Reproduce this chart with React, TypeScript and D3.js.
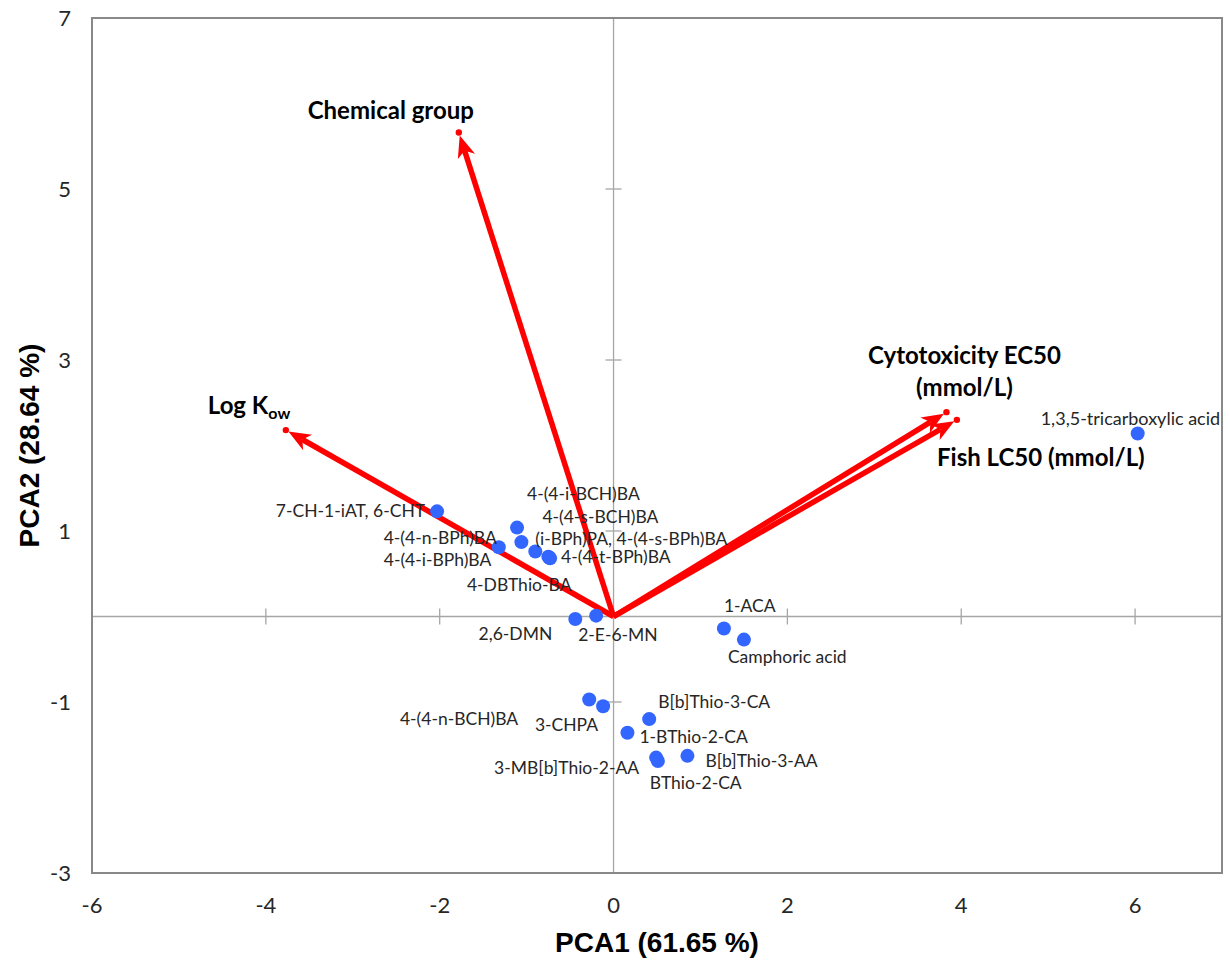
import React from "react";
import * as d3 from "d3";

// PCA scores (compounds)
const compoundNames = [
  "7-CH-1-iAT, 6-CHT",
  "4-(4-i-BCH)BA",
  "4-(4-s-BCH)BA",
  "(i-BPh)PA, 4-(4-s-BPh)BA",
  "4-(4-n-BPh)BA",
  "4-(4-i-BPh)BA",
  "4-(4-t-BPh)BA",
  "4-DBThio-BA",
  "2,6-DMN",
  "2-E-6-MN",
  "1-ACA",
  "Camphoric acid",
  "4-(4-n-BCH)BA",
  "3-CHPA",
  "B[b]Thio-3-CA",
  "1-BThio-2-CA",
  "3-MB[b]Thio-2-AA",
  "BThio-2-CA",
  "B[b]Thio-3-AA",
  "1,3,5-tricarboxylic acid",
];
const pca1 = [-2.03, -1.11, -1.06, -0.9, -1.32, -0.75, -0.73, -0.74, -0.44, -0.2, 1.27, 1.5, -0.28, -0.12, 0.41, 0.16, 0.49, 0.51, 0.85, 6.03];
const pca2 = [1.23, 1.04, 0.87, 0.76, 0.81, 0.7, 0.68, 0.69, -0.03, 0.01, -0.14, -0.27, -0.97, -1.05, -1.2, -1.36, -1.65, -1.69, -1.63, 2.14];

// loadings (variables)
const loadingNames = ["Log Kow", "Chemical group", "Cytotoxicity EC50 (mmol/L)", "Fish LC50 (mmol/L)"];
const loadX = [-3.77, -1.78, 3.83, 3.95];
const loadY = [2.18, 5.66, 2.39, 2.3];

const xTicks = [-6, -4, -2, 0, 2, 4, 6];
const yTicks = [-3, -1, 1, 3, 5, 7];

// label placement (px offsets from the point, anchor)
const labelPos: [number, number, string][] = [
  [-12, 0, "end"],
  [10, -34, "start"],
  [21, -25, "start"],
  [0, -13, "start"],
  [-2, -9, "end"],
  [-57, 3, "end"],
  [11, -1, "start"],
  [-30, 27, "middle"],
  [-23, 15, "end"],
  [-18, 19, "start"],
  [0, -23, "start"],
  [-16, 17, "start"],
  [-71, 19, "end"],
  [-5, 19, "end"],
  [9, -17, "start"],
  [12, 4, "start"],
  [-17, 10, "end"],
  [-8, 22, "start"],
  [18, 5, "start"],
  [-97, -15, "start"],
];

const W = 1230;
const H = 962;
const left = 92, right = 1222, top = 18, bottom = 873;

const x = d3.scaleLinear([-6, 7], [left, right]);
const y = d3.scaleLinear([-3, 7], [bottom, top]);

const RED = "#ff0000";
const labelFont = "Lato, 'Open Sans', sans-serif";
const titleFont = "'Liberation Sans', Arial, sans-serif";

function Arrow({ i }: { i: number }) {
  const x0 = x(0), y0 = y(0);
  const x1 = x(loadX[i]), y1 = y(loadY[i]);
  const ang = Math.atan2(y1 - y0, x1 - x0);
  const tipBack = 3;
  const len = 22, half = 9;
  const tx = x1 - Math.cos(ang) * tipBack;
  const ty = y1 - Math.sin(ang) * tipBack;
  const bx = tx - Math.cos(ang) * len;
  const by = ty - Math.sin(ang) * len;
  const px = -Math.sin(ang) * half;
  const py = Math.cos(ang) * half;
  const nx = bx + Math.cos(ang) * 6;
  const ny = by + Math.sin(ang) * 6;
  const head = d3.path();
  head.moveTo(tx, ty);
  head.lineTo(bx + px, by + py);
  head.lineTo(nx, ny);
  head.lineTo(bx - px, by - py);
  head.closePath();
  return (
    <g>
      <line x1={x0} y1={y0} x2={nx} y2={ny} stroke={RED} strokeWidth={5.5} />
      <path d={head.toString()} fill={RED} />
      <circle cx={x1} cy={y1} r={3.2} fill={RED} />
    </g>
  );
}

export default function App() {
  const x0 = x(0), y0 = y(0);
  const boldStyle = { fontFamily: labelFont, fontWeight: 700, fontSize: 24, fill: "#000" } as const;
  return (
    <svg width={W} height={H} style={{ position: "absolute", left: 0, top: 0, background: "#fff" }}>
      {/* inner axes */}
      <line x1={left} x2={right} y1={y0} y2={y0} stroke="#a6a6a6" strokeWidth={1.3} />
      <line x1={x0} x2={x0} y1={top} y2={bottom} stroke="#a6a6a6" strokeWidth={1.3} />
      {xTicks.filter((t) => t !== 0 && t !== -6).map((t) => (
        <line key={"xt" + t} x1={x(t)} x2={x(t)} y1={y0 - 8} y2={y0 + 8} stroke="#a6a6a6" strokeWidth={1.3} />
      ))}
      {yTicks.filter((t) => t !== -3 && t !== 7).map((t) => (
        <line key={"yt" + t} x1={x0 - 8} x2={x0 + 8} y1={y(t)} y2={y(t)} stroke="#a6a6a6" strokeWidth={1.3} />
      ))}
      {/* box */}
      <rect x={left} y={top} width={right - left} height={bottom - top} fill="none" stroke="#898989" strokeWidth={2} />

      {/* tick labels */}
      {xTicks.map((t) => (
        <text key={"xl" + t} x={x(t)} y={905} dy="0.35em" textAnchor="middle" fontFamily={labelFont} fontSize={22} fill="#262626">
          {t}
        </text>
      ))}
      {yTicks.map((t) => (
        <text key={"yl" + t} x={71} y={y(t)} dy="0.35em" textAnchor="end" fontFamily={labelFont} fontSize={22} fill="#262626">
          {t}
        </text>
      ))}

      {/* axis titles */}
      <text x={(left + right) / 2} y={952} textAnchor="middle" fontFamily={titleFont} fontWeight={700} fontSize={28} fill="#000">
        PCA1 (61.65 %)
      </text>
      <text transform={`translate(39,${(top + bottom) / 2}) rotate(-90)`} textAnchor="middle" fontFamily={titleFont} fontWeight={700} fontSize={28} fill="#000">
        PCA2 (28.64 %)
      </text>

      {/* loading arrows */}
      {loadingNames.map((_, i) => (
        <Arrow key={"a" + i} i={i} />
      ))}

      {/* arrow labels */}
      <text x={x(loadX[0]) - 78} y={y(loadY[0]) - 16} style={boldStyle}>
        Log K<tspan fontSize={16} dy={5}>ow</tspan>
      </text>
      <text x={x(loadX[1]) - 68} y={y(loadY[1]) - 22} dy="0.35em" textAnchor="middle" style={boldStyle}>
        {loadingNames[1]}
      </text>
      <text x={x(loadX[2]) + 18} y={y(loadY[2]) - 57} dy="0.35em" textAnchor="middle" style={boldStyle}>
        Cytotoxicity EC50
      </text>
      <text x={x(loadX[2]) + 18} y={y(loadY[2]) - 25} dy="0.35em" textAnchor="middle" style={boldStyle}>
        (mmol/L)
      </text>
      <text x={x(loadX[3]) + 84} y={y(loadY[3]) + 38} dy="0.35em" textAnchor="middle" style={boldStyle}>
        {loadingNames[3]}
      </text>

      {/* scores */}
      {compoundNames.map((n, i) => (
        <circle key={"p" + i} cx={x(pca1[i])} cy={y(pca2[i])} r={7} fill="#3366ff" />
      ))}
      {compoundNames.map((n, i) => (
        <text
          key={"l" + i}
          x={x(pca1[i]) + labelPos[i][0]}
          y={y(pca2[i]) + labelPos[i][1]}
          dy="0.35em"
          textAnchor={labelPos[i][2]}
          fontFamily={labelFont}
          fontSize={i === compoundNames.length - 1 ? 18 : 17.5}
          fill="#262626"
        >
          {n}
        </text>
      ))}
    </svg>
  );
}
